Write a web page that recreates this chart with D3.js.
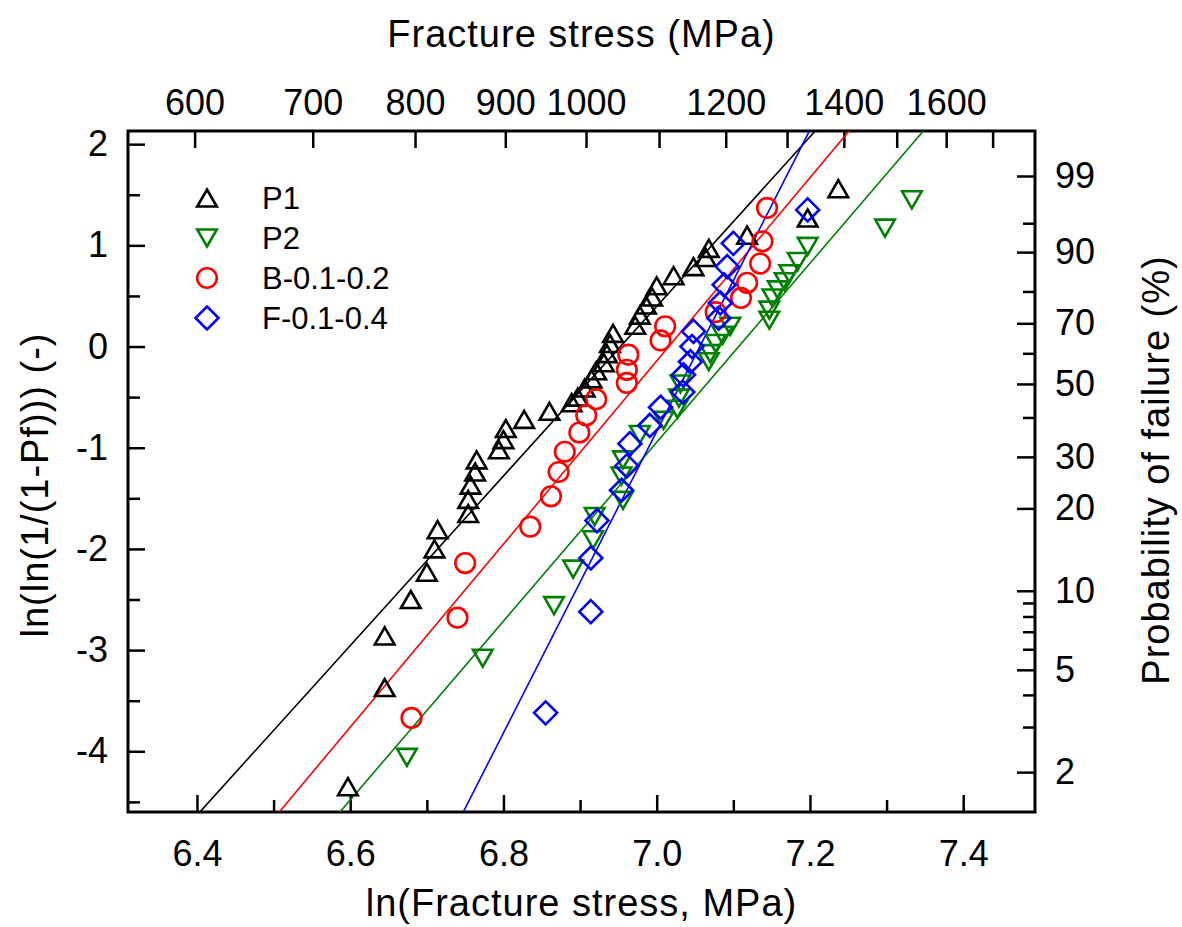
<!DOCTYPE html>
<html>
<head>
<meta charset="utf-8">
<script src="https://cdn.jsdelivr.net/npm/d3@7"></script>
<style>
  body { margin: 0; background: #fff; }
  svg { display: block; }
  text { font-family: "Liberation Sans", Arial, Helvetica, sans-serif; fill: #000; }
</style>
</head>
<body>
<svg id="chart" width="1182" height="927"></svg>
<script>
// ---------------- data (ln of fracture stress, Weibull ordinate) ----------------
const seriesNames = ["P1", "P2", "B-0.1-0.2", "F-0.1-0.4"];
const seriesColors = ["#000000", "#008000", "#ff0000", "#0000ff"];

const p1LnStress = [6.597, 6.645, 6.645, 6.679, 6.700, 6.710, 6.714, 6.754, 6.754, 6.757,
                    6.763, 6.765, 6.794, 6.800, 6.803, 6.827, 6.860, 6.889, 6.897, 6.906,
                    6.915, 6.921, 6.931, 6.935, 6.939, 6.943, 6.972, 6.978, 6.986, 6.994,
                    7.000, 7.022, 7.048, 7.064, 7.068, 7.118, 7.197, 7.237];
const p1Y = [-4.35, -3.37, -2.86, -2.50, -2.23, -2.00, -1.81, -1.65, -1.51, -1.37,
             -1.24, -1.12, -1.02, -0.92, -0.81, -0.72, -0.64, -0.555, -0.50, -0.41,
             -0.32, -0.24, -0.16, -0.07, 0.03, 0.13, 0.21, 0.31, 0.41, 0.49,
             0.60, 0.70, 0.79, 0.88, 0.97, 1.10, 1.27, 1.56];

const p2LnStress = [6.674, 6.773, 6.866, 6.891, 6.917, 6.919, 6.956, 6.954, 6.956, 6.978,
                    7.009, 7.027, 7.029, 7.031, 7.068, 7.070, 7.077, 7.086, 7.096, 7.147,
                    7.147, 7.151, 7.158, 7.167, 7.173, 7.184, 7.197, 7.298, 7.333];
const p2Y = [-4.06, -3.08, -2.56, -2.20, -1.91, -1.68, -1.52, -1.28, -1.12, -0.87,
             -0.73, -0.62, -0.51, -0.37, -0.15, -0.07, 0.03, 0.11, 0.20, 0.26,
             0.36, 0.48, 0.56, 0.64, 0.72, 0.84, 0.99, 1.17, 1.45];

const bLnStress = [6.680, 6.740, 6.750, 6.835, 6.862, 6.872, 6.880, 6.899, 6.908, 6.921,
                   6.961, 6.961, 6.963, 7.005, 7.011, 7.077, 7.110, 7.118, 7.135, 7.138, 7.144];
const bY = [-3.67, -2.68, -2.14, -1.78, -1.48, -1.24, -1.04, -0.85, -0.68, -0.52,
            -0.36, -0.23, -0.08, 0.06, 0.20, 0.34, 0.48, 0.63, 0.82, 1.04, 1.37];

const fLnStress = [6.855, 6.914, 6.914, 6.922, 6.954, 6.961, 6.965, 6.991, 7.005, 7.034,
                   7.035, 7.044, 7.046, 7.048, 7.081, 7.083, 7.088, 7.092, 7.100, 7.197];
const fY = [-3.62, -2.62, -2.09, -1.72, -1.42, -1.18, -0.96, -0.78, -0.60, -0.45,
            -0.28, -0.15, 0.00, 0.15, 0.28, 0.43, 0.61, 0.79, 1.02, 1.35];

// Weibull fits: modulus m and ln(characteristic strength)
const fitModulus = [8.38, 8.84, 9.05, 14.9];
const fitLnScale = [6.9527, 7.107, 7.0157, 7.0563];

// axis ticks
const lnTicks = [6.4, 6.6, 6.8, 7.0, 7.2, 7.4];
const lnMinorTicks = [6.5, 6.7, 6.9, 7.1, 7.3];
const yTicks = [-4, -3, -2, -1, 0, 1, 2];
const yMinorTicks = [-4.5, -3.5, -2.5, -1.5, -0.5, 0.5, 1.5];
const stressTicks = [600, 700, 800, 900, 1000, 1100, 1200, 1300, 1400, 1500, 1600, 1700];
const stressLabels = [600, 700, 800, 900, 1000, 1200, 1400, 1600];
const probMajor = [2, 5, 10, 20, 30, 50, 70, 90, 99];
const probMinor = [3, 4, 6, 7, 8, 9, 40, 60, 80, 95];

// ---------------- layout ----------------
const L = 128, R = 1035, T = 131, B = 812;
const xDomain = [6.31, 7.4937];
const yDomain = [-4.6, 2.13];
const rightDomain = [-4.265, 1.937];

const svg = d3.select("#chart");
const x = d3.scaleLinear().domain(xDomain).range([L, R]);
const y = d3.scaleLinear().domain(yDomain).range([B, T]);
const xTop = d3.scaleLog().domain(xDomain.map(Math.exp)).range([L, R]);
const yRight = d3.scaleLinear().domain(rightDomain).range([B, T]);
const weib = p => Math.log(-Math.log(1 - p / 100));

const FONT = '"Liberation Sans", Arial, Helvetica, sans-serif';

function styleAxis(g, size) {
  g.select(".domain").remove();
  g.selectAll(".tick line").attr("stroke", "#000").attr("stroke-width", 2.5);
  g.selectAll(".tick text").attr("font-size", size).attr("font-family", FONT).attr("fill", "#000");
  g.attr("font-family", FONT);
}

// bottom axis
svg.append("g").attr("transform", `translate(0,${B})`)
  .call(d3.axisBottom(x).tickValues(lnTicks).tickFormat(d3.format(".1f")).tickSize(-17).tickSizeOuter(0).tickPadding(28))
  .call(g => styleAxis(g, 36));
svg.append("g").attr("transform", `translate(0,${B})`)
  .call(d3.axisBottom(x).tickValues(lnMinorTicks).tickFormat("").tickSize(-12).tickSizeOuter(0))
  .call(g => styleAxis(g, 36));

// left axis
svg.append("g").attr("transform", `translate(${L},0)`)
  .call(d3.axisLeft(y).tickValues(yTicks).tickFormat(d => String(d)).tickSize(-17).tickSizeOuter(0).tickPadding(20))
  .call(g => styleAxis(g, 36));
svg.append("g").attr("transform", `translate(${L},0)`)
  .call(d3.axisLeft(y).tickValues(yMinorTicks).tickFormat("").tickSize(-12).tickSizeOuter(0))
  .call(g => styleAxis(g, 36));

// top axis (fracture stress, MPa)
svg.append("g").attr("transform", `translate(0,${T})`)
  .call(d3.axisTop(xTop).tickValues(stressTicks)
    .tickFormat(d => stressLabels.includes(d) ? String(d) : "")
    .tickSize(-17).tickSizeOuter(0).tickPadding(16))
  .call(g => styleAxis(g, 36));

// right axis (probability of failure)
svg.append("g").attr("transform", `translate(${R},0)`)
  .call(d3.axisRight(yRight).tickValues(probMajor.map(weib))
    .tickFormat((d, i) => String(probMajor[i])).tickSize(-18).tickSizeOuter(0).tickPadding(20))
  .call(g => styleAxis(g, 36));
svg.append("g").attr("transform", `translate(${R},0)`)
  .call(d3.axisRight(yRight).tickValues(probMinor.map(weib)).tickFormat("").tickSize(-12).tickSizeOuter(0))
  .call(g => styleAxis(g, 36));

// frame
svg.append("rect").attr("x", L).attr("y", T).attr("width", R - L).attr("height", B - T)
  .attr("fill", "none").attr("stroke", "#000").attr("stroke-width", 3);

// axis titles
svg.append("text").attr("x", (L + R) / 2).attr("y", 47).attr("text-anchor", "middle")
  .attr("font-size", 38).attr("letter-spacing", 1).text("Fracture stress (MPa)");
svg.append("text").attr("x", (L + R) / 2).attr("y", 916).attr("text-anchor", "middle")
  .attr("font-size", 38).attr("letter-spacing", 1).text("ln(Fracture stress, MPa)");
svg.append("text").attr("transform", `translate(48,485) rotate(-90)`).attr("text-anchor", "middle")
  .attr("font-size", 38).attr("letter-spacing", 1).text("ln(ln(1/(1-Pf))) (-)");
svg.append("text").attr("transform", `translate(1169,470) rotate(-90)`).attr("text-anchor", "middle")
  .attr("font-size", 38).attr("letter-spacing", 1).text("Probability of failure (%)");

// clip
svg.append("defs").append("clipPath").attr("id", "plotclip")
  .append("rect").attr("x", L).attr("y", T).attr("width", R - L).attr("height", B - T);

// fit lines
const lineG = svg.append("g").attr("clip-path", "url(#plotclip)");
const lineGen = d3.line().x(d => x(d[0])).y(d => y(d[1]));
fitModulus.forEach((m, i) => {
  const ys = [yDomain[0] - 1, yDomain[1] + 1];
  const pts = ys.map(v => [fitLnScale[i] + v / m, v]);
  lineG.append("path").attr("d", lineGen(pts)).attr("fill", "none")
    .attr("stroke", seriesColors[i]).attr("stroke-width", 1.6);
});

// marker shapes
const shapes = [
  "M0,-8.5L9.8,8.5L-9.8,8.5Z",      // triangle up
  "M0,8.5L9.8,-8.5L-9.8,-8.5Z",     // triangle down
  d3.arc()({innerRadius: 0, outerRadius: 9.8, startAngle: 0, endAngle: 2 * Math.PI}), // circle
  "M0,-11.5L11.5,0L0,11.5L-11.5,0Z" // diamond
];

const seriesX = [p1LnStress, p2LnStress, bLnStress, fLnStress];
const seriesY = [p1Y, p2Y, bY, fY];

const markG = svg.append("g");
seriesX.forEach((xs, i) => {
  const data = xs.map((v, j) => [v, seriesY[i][j]]);
  markG.append("g").selectAll("path").data(data).join("path")
    .attr("d", shapes[i])
    .attr("transform", d => `translate(${x(d[0])},${y(d[1])})`)
    .attr("fill", "none").attr("stroke", seriesColors[i]).attr("stroke-width", 2.6);
});

// legend
const legend = svg.append("g");
const legendRows = [198, 238, 278, 318];
seriesNames.forEach((name, i) => {
  legend.append("path").attr("d", shapes[i]).attr("transform", `translate(207,${legendRows[i]})`)
    .attr("fill", "none").attr("stroke", seriesColors[i]).attr("stroke-width", 2.6);
  legend.append("text").attr("x", 262).attr("y", legendRows[i]).attr("dy", "0.36em")
    .attr("font-size", 31).text(name);
});
</script>
</body>
</html>
